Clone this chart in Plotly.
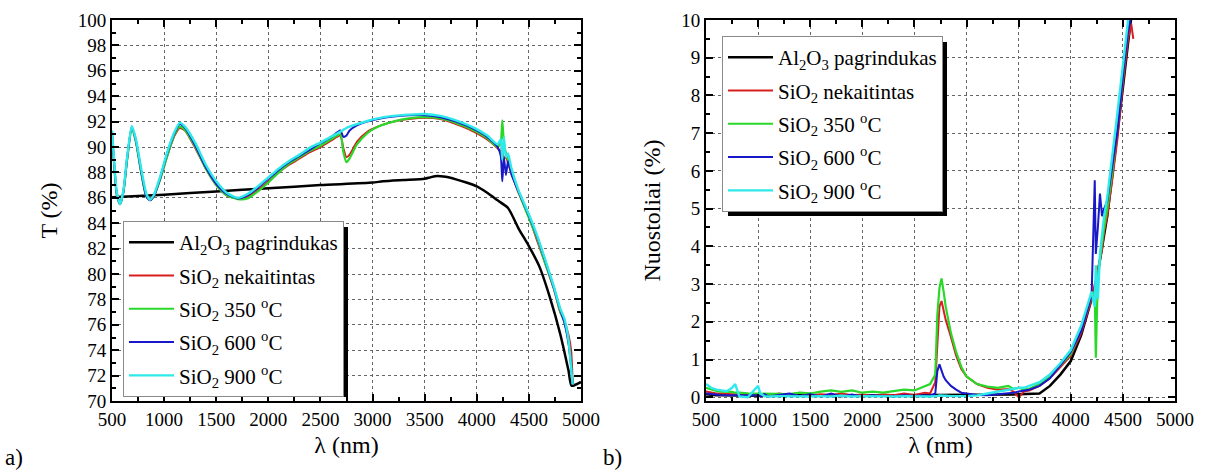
import plotly.graph_objects as go

FONT = "Times New Roman, Liberation Serif, serif"

# ---------------- data: panel a) transmission T (%) ----------------
wl_black_a = [500, 1000, 1500, 2000, 2500, 3000, 3100, 3300, 3500, 3550, 3600, 3700, 3800,
              3900, 4000, 4100, 4200, 4300, 4400, 4500, 4600, 4700, 4800, 4880, 4910, 5000]
t_al2o3 = [86.05, 86.25, 86.5, 86.75, 87.0, 87.2, 87.3, 87.4, 87.5, 87.6, 87.7, 87.65, 87.45,
           87.2, 86.9, 86.4, 85.8, 85.2, 83.6, 82.2, 80.6, 78.2, 75.3, 72.4, 71.2, 71.5]

wl_a = [500, 520, 545, 577, 610, 645, 690, 730, 780, 830, 864, 900, 960, 1030, 1100, 1150,
        1200, 1300, 1400, 1500, 1600, 1706, 1800, 1900, 2000, 2100, 2200, 2300, 2400, 2500,
        2600, 2690, 2720, 2750, 2780, 2850, 2950, 3050, 3200, 3350, 3500, 3650, 3800, 3950,
        4100, 4200, 4230, 4245, 4260, 4280, 4300, 4330, 4400, 4500, 4580, 4650, 4740, 4800,
        4840, 4880, 4905, 4920]
t_nekait = [91.0, 88.7, 86.3, 85.5, 86.5, 89.0, 91.5, 90.4, 88.0, 86.1, 85.8, 86.1, 87.4, 89.3,
            90.9, 91.5, 91.3, 89.9, 88.3, 87.0, 86.2, 85.95, 86.1, 86.6, 87.3, 88.0, 88.6, 89.1,
            89.6, 90.0, 90.5, 90.9, 89.9, 89.2, 89.4, 90.4, 91.2, 91.6, 92.0, 92.2, 92.3, 92.2,
            91.8, 91.3, 90.6, 89.9, 89.6, 90.2, 89.0, 89.3, 88.7, 88.0, 86.4, 84.5, 82.6, 81.0,
            78.8, 77.0, 76.3, 75.2, 74.0, 71.4]
t_350 = [91.0, 88.7, 86.3, 85.5, 86.5, 89.0, 91.5, 90.4, 88.0, 86.1, 85.85, 86.1, 87.4, 89.3,
         91.0, 91.6, 91.35, 90.0, 88.3, 87.0, 86.2, 85.9, 85.95, 86.5, 87.2, 88.0, 88.7, 89.2,
         89.7, 90.1, 90.6, 91.0, 89.6, 88.8, 89.1, 90.2, 91.1, 91.6, 92.0, 92.25, 92.35, 92.25,
         91.9, 91.4, 90.7, 90.0, 90.4, 92.1, 90.3, 89.5, 89.0, 88.2, 86.5, 84.4, 82.8, 81.0,
         78.9, 77.1, 76.2, 74.6, 72.8, 71.3]
t_600 = [91.0, 88.8, 86.4, 85.5, 86.5, 89.1, 91.6, 90.5, 88.1, 86.1, 85.8, 86.1, 87.5, 89.5,
         91.1, 91.8, 91.5, 90.1, 88.4, 87.1, 86.3, 85.95, 86.2, 86.8, 87.5, 88.2, 88.8, 89.3,
         89.8, 90.3, 90.75, 91.3, 90.8, 90.9, 91.3, 91.7, 92.0, 92.2, 92.4, 92.5, 92.5, 92.35,
         92.0, 91.5, 90.8, 90.0, 89.3, 87.3, 89.2, 87.8, 88.9, 87.9, 86.5, 84.6, 82.9, 81.2,
         78.9, 77.2, 76.2, 74.6, 72.8, 71.3]
t_900 = [91.3, 89.0, 86.5, 85.5, 86.6, 89.2, 91.65, 90.6, 88.3, 86.3, 85.85, 86.2, 87.6, 89.6,
         91.2, 91.9, 91.6, 90.3, 88.6, 87.3, 86.4, 86.0, 86.3, 86.9, 87.6, 88.3, 88.9, 89.4,
         89.95, 90.35, 90.8, 91.2, 91.35, 91.5, 91.6, 91.8, 92.05, 92.25, 92.45, 92.55, 92.6,
         92.45, 92.1, 91.6, 90.9, 90.2, 90.6, 89.0, 90.8, 89.2, 89.5, 88.4, 86.6, 84.7, 83.0,
         81.3, 79.0, 77.3, 76.5, 74.8, 72.6, 71.3]

# ---------------- data: panel b) losses (%) ----------------
wl_b = [500, 550, 600, 650, 700, 750, 780, 820, 900, 1000, 1020, 1060, 1100, 1200, 1300, 1400,
        1500, 1600, 1700, 1800, 1900, 2000, 2100, 2200, 2300, 2400, 2500, 2600, 2650, 2700,
        2720, 2740, 2760, 2780, 2800, 2850, 2900, 2950, 3000, 3100, 3200, 3300, 3400, 3450,
        3500, 3550, 3600, 3700, 3800, 3900, 4000, 4100, 4200, 4230, 4240, 4260, 4280, 4300,
        4320, 4350, 4400, 4450, 4500, 4550, 4580, 4600]
l_al2o3 = [0.08, 0.06, 0.05, 0.05, 0.05, 0.05, 0.05, 0.05, 0.05, 0.05, 0.04, 0.05, 0.04, 0.08,
           0.06, 0.05, 0.05, 0.04, 0.05, 0.04, 0.05, 0.04, 0.05, 0.04, 0.05, 0.05, 0.05, 0.06,
           0.05, 0.05, 0.05, 0.05, 0.05, 0.05, 0.05, 0.05, 0.05, 0.05, 0.05, 0.06, 0.06, 0.07,
           0.07, 0.07, 0.08, 0.08, 0.08, 0.1, 0.3, 0.6, 0.96, 1.65, 2.6, 2.9, 3.0, 3.3, 3.6,
           4.0, 4.3, 4.8, 5.9, 7.0, 8.2, 9.4, 10.0, 10.5]
l_nekait = [0.15, 0.12, 0.1, 0.1, 0.08, 0.08, 0.08, 0.07, 0.07, 0.06, 0.05, 0.04, 0.05, 0.1,
            0.06, 0.12, 0.05, 0.08, 0.06, 0.1, 0.05, 0.07, 0.04, 0.08, 0.05, 0.1, 0.06, 0.12,
            0.1, 0.4, 1.6, 2.4, 2.55, 2.3, 2.05, 1.6, 1.1, 0.75, 0.55, 0.35, 0.25, 0.2, 0.22,
            0.15, 0.0, 0.15, 0.18, 0.3, 0.5, 0.8, 1.1, 1.7, 2.6, 3.0, 3.1, 3.4, 3.7, 3.9, 4.4,
            4.8, 5.8, 6.9, 8.3, 9.5, 9.9, 9.5]
l_350 = [0.25, 0.2, 0.17, 0.15, 0.15, 0.14, 0.12, 0.12, 0.1, 0.1, 0.08, 0.1, 0.08, 0.1, 0.08,
         0.12, 0.1, 0.15, 0.18, 0.14, 0.18, 0.12, 0.15, 0.12, 0.16, 0.2, 0.18, 0.3, 0.35, 0.6,
         2.2, 2.9, 3.15, 2.8, 2.4, 1.7, 1.2, 0.8, 0.55, 0.35, 0.28, 0.25, 0.3, 0.22, 0.25, 0.2,
         0.22, 0.35, 0.55, 0.85, 1.15, 1.8, 2.7, 2.8, 1.05, 3.2, 3.7, 4.1, 4.5, 5.0, 6.0, 7.2,
         8.5, 9.8, 10.3, 10.6]
l_600 = [0.1, 0.08, 0.06, 0.06, 0.05, 0.05, 0.05, 0.05, 0.05, 0.05, 0.02, 0.08, 0.02, 0.05,
         0.1, 0.03, 0.08, 0.02, 0.1, 0.02, 0.07, 0.02, 0.05, 0.03, 0.02, 0.05, 0.03, 0.05, 0.04,
         0.1, 0.7, 0.87, 0.7, 0.55, 0.45, 0.3, 0.2, 0.12, 0.1, 0.06, 0.05, 0.08, 0.1, 0.12,
         0.15, 0.18, 0.2, 0.3, 0.5, 0.85, 1.2, 1.75, 2.7, 5.75, 3.8, 4.5, 5.4, 4.8, 5.0, 5.2,
         6.2, 7.1, 8.5, 9.7, 10.1, 10.4]
l_900 = [0.35, 0.25, 0.2, 0.18, 0.16, 0.25, 0.35, 0.02, 0.0, 0.3, 0.1, 0.03, 0.02, 0.03, 0.02,
         0.03, 0.02, 0.03, 0.02, 0.04, 0.02, 0.03, 0.02, 0.03, 0.02, 0.03, 0.02, 0.03, 0.02,
         0.03, 0.03, 0.05, 0.04, 0.03, 0.04, 0.03, 0.02, 0.03, 0.03, 0.05, 0.1, 0.15, 0.2,
         0.22, 0.25, 0.25, 0.3, 0.4, 0.6, 0.9, 1.25, 1.9, 2.8, 2.4, 3.5, 2.6, 3.8, 4.3, 4.8,
         5.3, 6.4, 7.6, 8.8, 10.0, 10.4, 10.6]

series_names = ["Al<sub>2</sub>O<sub>3</sub> pagrindukas",
                "SiO<sub>2</sub> nekaitintas",
                "SiO<sub>2</sub> 350 <sup>o</sup>C",
                "SiO<sub>2</sub> 600 <sup>o</sup>C",
                "SiO<sub>2</sub> 900 <sup>o</sup>C"]
series_colors = ["#000000", "#d81e1e", "#2ad82a", "#1818c8", "#2ee8ea"]
series_widths = [2.5, 2, 2.2, 2, 2.4]

fig = go.Figure()

a_x = [wl_black_a, wl_a, wl_a, wl_a, wl_a]
a_y = [t_al2o3, t_nekait, t_350, t_600, t_900]
for i in range(5):
    fig.add_trace(go.Scatter(
        x=a_x[i], y=a_y[i], mode="lines", name=series_names[i],
        line=dict(color=series_colors[i], width=series_widths[i], shape="spline", smoothing=0.6),
        xaxis="x", yaxis="y", legend="legend", legendgroup="a%d" % i))

b_y = [l_al2o3, l_nekait, l_350, l_600, l_900]
for i in range(5):
    fig.add_trace(go.Scatter(
        x=wl_b, y=b_y[i], mode="lines", name=series_names[i],
        line=dict(color=series_colors[i], width=series_widths[i]),
        xaxis="x2", yaxis="y2", legend="legend2", legendgroup="b%d" % i))

W, H = 1207, 470


def px(x):
    return x / W


def py(y):
    return 1 - y / H


tickfont = dict(family=FONT, size=19, color="black")
titlefont = dict(family=FONT, size=24, color="black")


def axis(**kw):
    d = dict(showline=True, linecolor="black", linewidth=2, mirror="ticks",
             ticks="inside", ticklen=7, tickwidth=2, tickcolor="black",
             showgrid=True, gridcolor="#666666", griddash="dot", gridwidth=1,
             zeroline=False, tickfont=tickfont, automargin=False)
    d.update(kw)
    return d


legend_style = dict(xanchor="left", yanchor="top", bgcolor="white", bordercolor="#8a8a8a",
                    borderwidth=1, font=dict(family=FONT, size=21, color="black"),
                    tracegroupgap=3, itemwidth=45)

fig.update_layout(
    width=W, height=H, margin=dict(l=0, r=0, t=0, b=0, autoexpand=False),
    paper_bgcolor="white", plot_bgcolor="white",
    font=dict(family=FONT, color="black"),
    xaxis=axis(domain=[px(112), px(581)], range=[500, 5000], dtick=500, tick0=500,
               anchor="y",
               minor=dict(ticks="inside", ticklen=4, tickwidth=2, tickcolor="black",
                          dtick=250, showgrid=False),
               title=dict(text="λ (nm)", font=titlefont, standoff=7)),
    yaxis=axis(domain=[py(401), py(20)], range=[70, 100], dtick=2, tick0=70, anchor="x",
               minor=dict(ticks="inside", ticklen=4, tickwidth=2, tickcolor="black",
                          dtick=1, showgrid=False),
               title=dict(text="T (%)", font=titlefont, standoff=13)),
    xaxis2=axis(domain=[px(706), px(1175)], range=[500, 5000], dtick=500, tick0=500,
                anchor="y2",
                minor=dict(ticks="inside", ticklen=4, tickwidth=2, tickcolor="black",
                           dtick=250, showgrid=False),
                title=dict(text="λ (nm)", font=titlefont, standoff=7)),
    yaxis2=axis(domain=[py(401), py(20)], range=[-0.1, 10], dtick=1, tick0=0, anchor="x2",
                minor=dict(ticks="inside", ticklen=4, tickwidth=2, tickcolor="black",
                           dtick=0.5, showgrid=False),
                title=dict(text="Nuostoliai (%)", font=titlefont, standoff=14)),
    legend=dict(x=px(123), y=py(221), **legend_style),
    legend2=dict(x=px(722), y=py(36), **legend_style),
    annotations=[
        dict(text="a)", x=px(14), y=py(457), xref="paper", yref="paper", showarrow=False,
             xanchor="center", yanchor="middle",
             font=dict(family=FONT, size=23, color="black")),
        dict(text="b)", x=px(612), y=py(457), xref="paper", yref="paper", showarrow=False,
             xanchor="center", yanchor="middle",
             font=dict(family=FONT, size=23, color="black")),
    ],
    shapes=[
        dict(type="rect", xref="paper", yref="paper", layer="above",
             x0=px(129), x1=px(348), y0=py(397), y1=py(227),
             fillcolor="black", line=dict(width=0)),
        dict(type="rect", xref="paper", yref="paper", layer="above",
             x0=px(728), x1=px(947), y0=py(216), y1=py(42),
             fillcolor="black", line=dict(width=0)),
    ],
)

fig.write_html("out.html", post_script="document.body.style.margin='0px';",
               config={"displayModeBar": False})
